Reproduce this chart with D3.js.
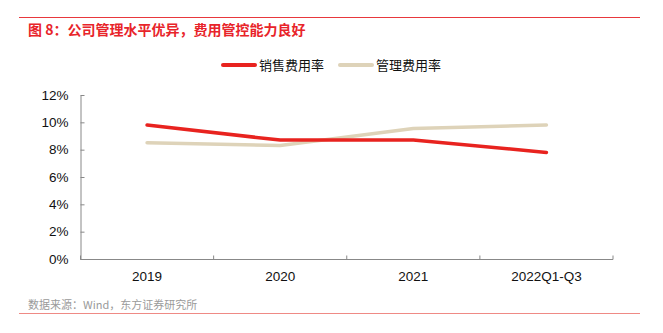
<!DOCTYPE html>
<html>
<head>
<meta charset="utf-8">
<script src="https://cdn.jsdelivr.net/npm/d3@7"></script>
<style>
  body { margin: 0; background: #fff; }
  svg { display: block; font-family: "Liberation Sans", Arial, "Noto Sans CJK SC", sans-serif; }
</style>
</head>
<body>
<svg id="canvas"></svg>
<script>
let width = 663
let height = 333

let categories = ['2019', '2020', '2021', '2022Q1-Q3']
let salesRate = [9.8, 8.7, 8.7, 7.8]
let adminRate = [8.5, 8.3, 9.55, 9.8]
let yTicks = [0, 2, 4, 6, 8, 10, 12]

let seriesList = [
  { name: '销售费用率', values: salesRate, color: '#e8231f' },
  { name: '管理费用率', values: adminRate, color: '#ded3b9' }
]

let canvas = d3.select('#canvas')
               .attr('width', width)
               .attr('height', height)

// header and footer rules
canvas.append('line')
      .attr('x1', 19).attr('x2', 640)
      .attr('y1', 17.5).attr('y2', 17.5)
      .attr('stroke', '#e8383d').attr('stroke-width', 1)

canvas.append('text')
      .attr('x', 28).attr('y', 35)
      .attr('fill', '#e8242a')
      .attr('font-size', 14)
      .attr('font-weight', 'bold')
      .attr('font-family', '"Noto Sans CJK SC", sans-serif')
      .text('图 8：公司管理水平优异，费用管控能力良好')

canvas.append('line')
      .attr('x1', 19).attr('x2', 640)
      .attr('y1', 313.5).attr('y2', 313.5)
      .attr('stroke', '#ef8a85').attr('stroke-width', 1)

canvas.append('text')
      .attr('x', 28).attr('y', 309)
      .attr('fill', '#9a9a9a')
      .attr('font-size', 11)
      .attr('font-family', '"Noto Sans CJK SC", sans-serif')
      .text('数据来源：Wind，东方证券研究所')

let xScale = d3.scaleBand()
               .domain(categories)
               .range([80.5, 613])

let yScale = d3.scaleLinear()
               .domain([0, 12])
               .range([259, 95])

let yAxis = d3.axisLeft(yScale)
              .tickValues(yTicks)
              .tickFormat(d => d + '%')
              .tickSizeInner(-4)
              .tickSizeOuter(0)
              .tickPadding(12)

let yG = canvas.append('g')
      .attr('transform', 'translate(80.5, 0)')
      .call(yAxis)
yG.select('.domain').attr('stroke', '#888')
yG.selectAll('.tick line').attr('stroke', '#888')
yG.selectAll('.tick text')
  .attr('font-size', 13.5)
  .attr('fill', '#111')
  .attr('font-family', '"Liberation Sans", Arial, sans-serif')

// x axis: ticks sit on the band boundaries, labels at band centres
let xG = canvas.append('g')
      .attr('transform', 'translate(0, 259.5)')
xG.append('line')
  .attr('x1', xScale.range()[0]).attr('x2', xScale.range()[1])
  .attr('stroke', '#888')
let bounds = categories.map(c => xScale(c)).concat([xScale.range()[1]])
xG.selectAll('.bnd')
  .data(bounds)
  .enter()
  .append('line')
  .attr('x1', d => d).attr('x2', d => d)
  .attr('y1', 0).attr('y2', -4)
  .attr('stroke', '#888')
xG.selectAll('.lbl')
  .data(categories)
  .enter()
  .append('text')
  .attr('x', d => xScale(d) + xScale.bandwidth() / 2)
  .attr('y', 21)
  .attr('text-anchor', 'middle')
  .attr('font-size', 13.5)
  .attr('fill', '#111')
  .attr('font-family', '"Liberation Sans", Arial, sans-serif')
  .text(d => d)

let line = d3.line()
             .x((d, i) => xScale(categories[i]) + xScale.bandwidth() / 2)
             .y(d => yScale(d))

// management line drawn first, sales line on top
seriesList.slice().reverse().forEach(s => {
  canvas.append('path')
        .datum(s.values)
        .attr('d', line)
        .attr('fill', 'none')
        .attr('stroke', s.color)
        .attr('stroke-width', 3.5)
        .attr('stroke-linecap', 'round')
        .attr('stroke-linejoin', 'round')
})

// legend
let legendX = [223, 340]
let legend = canvas.selectAll('.legend')
      .data(seriesList)
      .enter()
      .append('g')
      .attr('transform', (d, i) => `translate(${legendX[i]}, 65)`)
legend.append('line')
      .attr('x1', 0).attr('x2', 32)
      .attr('stroke', d => d.color)
      .attr('stroke-width', 4)
      .attr('stroke-linecap', 'round')
legend.append('text')
      .attr('x', 36).attr('y', 5)
      .attr('font-size', 13)
      .attr('fill', '#111')
      .attr('font-family', '"Noto Sans CJK SC", sans-serif')
      .text(d => d.name)
</script>
</body>
</html>
